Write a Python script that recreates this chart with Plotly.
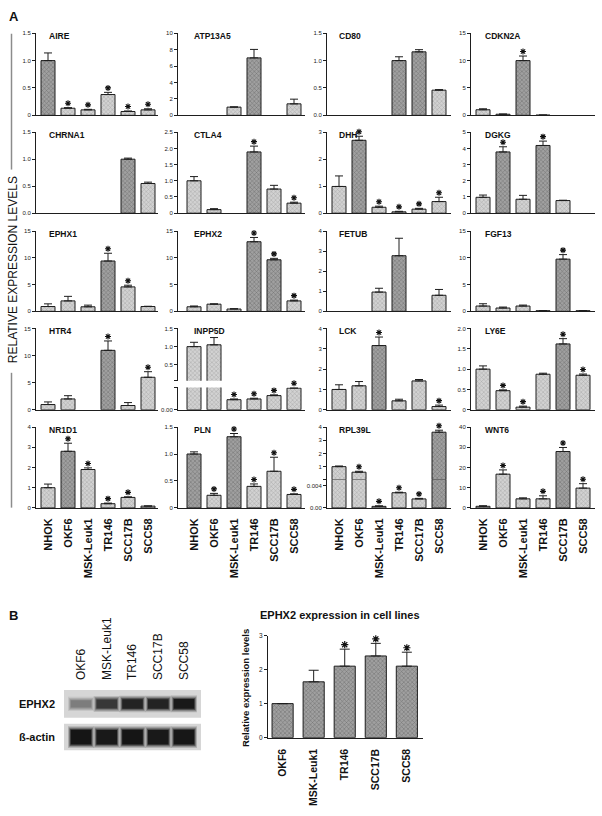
import plotly.graph_objects as go

FONT = "Liberation Sans, Arial, Helvetica, sans-serif"

# ---------------- data: panel A ----------------
CELL_LINES = ["NHOK", "OKF6", "MSK-Leuk1", "TR146", "SCC17B", "SCC58"]

AIRE_MEAN = [1.00, 0.13, 0.10, 0.38, 0.07, 0.10]
AIRE_SEM = [0.14, 0.01, 0.01, 0.04, 0.01, 0.02]
AIRE_SIG = [0, 1, 1, 1, 1, 1]
AIRE_TICKS = [0, 0.5, 1.0, 1.5]
AIRE_TICKTEXT = ["0", "0.5", "1.0", "1.5"]

ATP13A5_MEAN = [None, None, 1.00, 7.00, None, 1.40]
ATP13A5_SEM = [None, None, 0.03, 1.03, None, 0.57]
ATP13A5_SIG = [0, 0, 0, 0, 0, 0]
ATP13A5_TICKS = [0, 2, 4, 6, 8, 10]
ATP13A5_TICKTEXT = ["0", "2", "4", "6", "8", "10"]

CD80_MEAN = [None, None, None, 1.00, 1.16, 0.46]
CD80_SEM = [None, None, None, 0.07, 0.04, 0.01]
CD80_SIG = [0, 0, 0, 0, 0, 0]
CD80_TICKS = [0, 0.5, 1.0, 1.5]
CD80_TICKTEXT = ["0.0", "0.5", "1.0", "1.5"]

CDKN2A_MEAN = [1.02, 0.20, 10.0, 0.05, None, None]
CDKN2A_SEM = [0.18, 0.03, 0.84, None, None, None]
CDKN2A_SIG = [0, 0, 1, 0, 0, 0]
CDKN2A_TICKS = [0, 5, 10, 15]
CDKN2A_TICKTEXT = ["0", "5", "10", "15"]

CHRNA1_MEAN = [None, None, None, None, 1.00, 0.55]
CHRNA1_SEM = [None, None, None, None, 0.02, 0.025]
CHRNA1_SIG = [0, 0, 0, 0, 0, 0]
CHRNA1_TICKS = [0, 0.5, 1.0, 1.5]
CHRNA1_TICKTEXT = ["0.0", "0.5", "1.0", "1.5"]

CTLA4_MEAN = [1.00, 0.11, None, 1.89, 0.745, 0.31]
CTLA4_SEM = [0.13, 0.03, None, 0.18, 0.115, 0.03]
CTLA4_SIG = [0, 0, 0, 1, 0, 1]
CTLA4_TICKS = [0, 0.5, 1.0, 1.5, 2.0, 2.5]
CTLA4_TICKTEXT = ["0", "0.5", "1.0", "1.5", "2.0", "2.5"]

DHH_MEAN = [0.99, 2.70, 0.22, 0.05, 0.15, 0.43]
DHH_SEM = [0.39, 0.15, 0.04, 0.02, 0.03, 0.16]
DHH_SIG = [0, 1, 1, 1, 1, 1]
DHH_TICKS = [0, 1, 2, 3]
DHH_TICKTEXT = ["0", "1", "2", "3"]

DGKG_MEAN = [0.98, 3.78, 0.86, 4.18, 0.78, None]
DGKG_SEM = [0.14, 0.32, 0.24, 0.27, 0.02, None]
DGKG_SIG = [0, 1, 0, 1, 0, 0]
DGKG_TICKS = [0, 1, 2, 3, 4, 5]
DGKG_TICKTEXT = ["0", "1", "2", "3", "4", "5"]

EPHX1_MEAN = [0.90, 1.95, 0.85, 9.40, 4.57, 0.90]
EPHX1_SEM = [0.50, 0.85, 0.31, 1.45, 0.31, 0.05]
EPHX1_SIG = [0, 0, 0, 1, 1, 0]
EPHX1_TICKS = [0, 5, 10, 15]
EPHX1_TICKTEXT = ["0", "5", "10", "15"]

EPHX2_MEAN = [0.85, 1.34, 0.43, 13.0, 9.63, 1.95]
EPHX2_SEM = [0.15, 0.06, 0.07, 0.80, 0.27, 0.15]
EPHX2_SIG = [0, 0, 0, 1, 1, 1]
EPHX2_TICKS = [0, 5, 10, 15]
EPHX2_TICKTEXT = ["0", "5", "10", "15"]

FETUB_MEAN = [None, None, 0.96, 2.77, None, 0.80]
FETUB_SEM = [None, None, 0.19, 0.87, None, 0.29]
FETUB_SIG = [0, 0, 0, 0, 0, 0]
FETUB_TICKS = [0, 1, 2, 3, 4]
FETUB_TICKTEXT = ["0", "1", "2", "3", "4"]

FGF13_MEAN = [0.99, 0.62, 0.99, 0.12, 9.75, 0.12]
FGF13_SEM = [0.43, 0.18, 0.18, 0.02, 0.85, 0.02]
FGF13_SIG = [0, 0, 0, 0, 1, 0]
FGF13_TICKS = [0, 5, 10, 15]
FGF13_TICKTEXT = ["0", "5", "10", "15"]

HTR4_MEAN = [0.97, 2.00, None, 10.97, 0.79, 6.00]
HTR4_SEM = [0.48, 0.60, None, 1.73, 0.54, 1.03]
HTR4_SIG = [0, 0, 0, 1, 0, 1]
HTR4_TICKS = [0, 5, 10, 15]
HTR4_TICKTEXT = ["0", "5", "10", "15"]

INPP5D_MEAN = [1.00, 1.05, 0.027, 0.029, 0.038, 0.058]
INPP5D_SEM = [0.12, 0.20, 0.002, 0.002, 0.002, 0.001]
INPP5D_SIG = [0, 0, 1, 1, 1, 1]
INPP5D_BREAK = 0.06
INPP5D_TICKS_UPPER = [0.5, 1.0, 1.5]
INPP5D_TICKTEXT_UPPER = ["0.5", "1.0", "1.5"]
INPP5D_TICKS_LOWER = [0]
INPP5D_TICKTEXT_LOWER = ["0.00"]

LCK_MEAN = [1.00, 1.18, 3.16, 0.44, 1.42, 0.16]
LCK_SEM = [0.23, 0.21, 0.42, 0.08, 0.07, 0.07]
LCK_SIG = [0, 0, 1, 0, 0, 1]
LCK_TICKS = [0, 1, 2, 3, 4]
LCK_TICKTEXT = ["0", "1", "2", "3", "4"]

LY6E_MEAN = [1.00, 0.47, 0.065, 0.875, 1.62, 0.85]
LY6E_SEM = [0.08, 0.02, 0.025, 0.025, 0.13, 0.03]
LY6E_SIG = [0, 1, 1, 0, 1, 1]
LY6E_TICKS = [0, 0.5, 1.0, 1.5, 2.0]
LY6E_TICKTEXT = ["0", "0.5", "1.0", "1.5", "2.0"]

NR1D1_MEAN = [1.00, 2.80, 1.90, 0.21, 0.52, 0.09]
NR1D1_SEM = [0.18, 0.40, 0.08, 0.03, 0.03, 0.01]
NR1D1_SIG = [0, 1, 1, 1, 1, 0]
NR1D1_TICKS = [0, 1, 2, 3, 4]
NR1D1_TICKTEXT = ["0", "1", "2", "3", "4"]

PLN_MEAN = [1.00, 0.235, 1.32, 0.40, 0.68, 0.25]
PLN_SEM = [0.04, 0.035, 0.06, 0.045, 0.26, 0.012]
PLN_SIG = [0, 1, 1, 1, 1, 1]
PLN_TICKS = [0, 0.5, 1.0, 1.5]
PLN_TICKTEXT = ["0", "0.5", "1.0", "1.5"]

RPL39L_MEAN = [1.00, 0.58, 0.00028, 0.0027, 0.0016, 3.61]
RPL39L_SEM = [0.05, 0.07, 0.0001, 0.0001, 0.0001, 0.15]
RPL39L_SIG = [0, 1, 1, 1, 1, 1]
RPL39L_BREAK = 0.005
RPL39L_TICKS_UPPER = [1, 2, 3, 4]
RPL39L_TICKTEXT_UPPER = ["1", "2", "3", "4"]
RPL39L_TICKS_LOWER = [0, 0.004]
RPL39L_TICKTEXT_LOWER = ["0.00", "0.004"]

WNT6_MEAN = [0.80, 16.7, 4.5, 4.5, 27.9, 9.8]
WNT6_SEM = [0.30, 2.1, 0.5, 1.5, 2.0, 2.2]
WNT6_SIG = [0, 1, 0, 1, 1, 1]
WNT6_TICKS = [0, 10, 20, 30, 40]
WNT6_TICKTEXT = ["0", "10", "20", "30", "40"]

# ---------------- data: panel B ----------------
WB_LINES = ["OKF6", "MSK-Leuk1", "TR146", "SCC17B", "SCC58"]
WB_MEAN = [1.00, 1.64, 2.10, 2.40, 2.10]
WB_SEM = [None, 0.34, 0.50, 0.37, 0.41]
WB_SIG = [0, 0, 1, 1, 1]
WB_TICKS = [0, 1, 2, 3]
WB_TICKTEXT = ["0", "1", "2", "3"]
BLOT_ROWS = ["EPHX2", "ß-actin"]
EPHX2_BAND = [0.45, 0.80, 0.90, 0.90, 0.95]
ACTIN_BAND = [0.97, 0.95, 0.97, 0.95, 0.96]

# ---------------- table built from the arrays ----------------
G = globals()
GRID = [["AIRE", "ATP13A5", "CD80", "CDKN2A"],
        ["CHRNA1", "CTLA4", "DHH", "DGKG"],
        ["EPHX1", "EPHX2", "FETUB", "FGF13"],
        ["HTR4", "INPP5D", "LCK", "LY6E"],
        ["NR1D1", "PLN", "RPL39L", "WNT6"]]
SPLIT = {"INPP5D", "RPL39L"}

# ---------------- styles / layout (pixels) ----------------
DARK_BARS = {"AIRE": [0], "ATP13A5": [3], "CD80": [3, 4], "CDKN2A": [2], "CHRNA1": [4],
             "CTLA4": [3], "DHH": [1], "DGKG": [1, 3], "EPHX1": [3], "EPHX2": [3, 4],
             "FETUB": [3], "FGF13": [4], "HTR4": [3], "INPP5D": [], "LCK": [2],
             "LY6E": [4], "NR1D1": [1], "PLN": [0, 2], "RPL39L": [5], "WNT6": [4]}
LIGHT = dict(bg="#d2d2d2", fg="#7a7a7a")
DARK = dict(bg="#a0a0a0", fg="#3c3c3c")
EDGE = "#1e1e1e"
W, H = 602, 816
COLS = [(36, 158), (178, 305), (327, 451), (471, 595)]
COL_RANGE = [(-0.6, 5.5), (-0.8, 5.55), (-0.6, 5.6), (-0.6, 5.6)]
ROWS = [(29.5, 112.3), (129.3, 211.0), (229.0, 310.0), (327.3, 409.3), (426.7, 508.3)]
TITLE_X = [47, 192, 337, 483]
SPLIT_DOM = {"INPP5D": ((327.3, 380.0), (386.7, 409.3)),
             "RPL39L": ((426.7, 479.9), (479.9, 508.3))}
STAR_GAP_PX = 4.5
STAR_ROOM_PX = 16.0


def fx(p):
    return p / W


def fy(p):
    return 1 - p / H


layout = dict(width=W, height=H, margin=dict(l=0, r=0, t=0, b=0), autosize=False,
              paper_bgcolor="white", plot_bgcolor="rgba(0,0,0,0)", showlegend=False,
              barmode="overlay", font=dict(family=FONT, color="#111"),
              annotations=[], shapes=[])
traces = []
N = [0]


def add_axes(xdom, ydom, xrange, yrange, cats, xkw=None, ykw=None, visible=True):
    N[0] += 1
    s = "" if N[0] == 1 else str(N[0])
    xa = dict(domain=[fx(xdom[0]), fx(xdom[1])], range=list(xrange), anchor="y" + s,
              type="category", categoryorder="array", categoryarray=cats,
              showline=True, linecolor=EDGE, linewidth=1, ticks="", showgrid=False,
              zeroline=False, showticklabels=False, fixedrange=True)
    ya = dict(domain=[fy(ydom[1]), fy(ydom[0])], range=list(yrange), anchor="x" + s,
              showline=True, linecolor=EDGE, linewidth=1, ticks="outside", ticklen=3,
              tickwidth=1, tickcolor=EDGE, showgrid=False, zeroline=False,
              tickfont=dict(size=6, family=FONT, color="#222"), fixedrange=True)
    if xkw:
        xa.update(xkw)
    if ykw:
        ya.update(ykw)
    if not visible:
        xa["visible"] = False
        ya["visible"] = False
    layout["xaxis" + s] = xa
    layout["yaxis" + s] = ya
    info = dict(xdom=xdom, ydom=ydom, xrange=xrange, yrange=yrange, cats=cats,
                upp=abs(yrange[1] - yrange[0]) / abs(ydom[1] - ydom[0]))
    return "x" + s, "y" + s, info


def add_bars(ax, means, sems, sigs, dark_idx, owns, show, capw=4, bw=0.7, star=5, lw=1.1):
    xr, yr, info = ax
    cats = info["cats"]
    for is_dark in (False, True):
        ys, es = [], []
        for i, m in enumerate(means):
            if m is not None and show(m) and ((i in dark_idx) == is_dark):
                ys.append(m)
                es.append(sems[i] if (owns(m) and sems[i] is not None) else None)
            else:
                ys.append(None)
                es.append(None)
        if all(v is None for v in ys):
            continue
        st = DARK if is_dark else LIGHT
        traces.append(go.Bar(
            x=cats, y=ys, xaxis=xr, yaxis=yr, width=bw, hoverinfo="skip",
            marker=dict(color=st["bg"], line=dict(color=EDGE, width=1),
                        pattern=dict(shape="x", fgcolor=st["fg"], bgcolor=st["bg"],
                                     size=3, solidity=0.3)),
            error_y=dict(type="data", symmetric=False, array=es,
                         arrayminus=[0 if e is not None else None for e in es],
                         color=EDGE, thickness=1, width=capw)))
    sx, sy = [], []
    for i, m in enumerate(means):
        if m is not None and sigs[i] and owns(m):
            sx.append(cats[i])
            sy.append(m + (sems[i] or 0) + STAR_GAP_PX * info["upp"])
    if sx:
        # invisible twin subplot with the same scale, a little taller, for the stars
        y0, y1 = info["yrange"]
        sxr, syr, _ = add_axes(info["xdom"], (info["ydom"][0] - STAR_ROOM_PX, info["ydom"][1]),
                               info["xrange"], (y0, y1 + STAR_ROOM_PX * info["upp"]), cats,
                               visible=False)
        traces.append(go.Scatter(
            x=sx, y=sy, xaxis=sxr, yaxis=syr, mode="markers", hoverinfo="skip",
            marker=dict(symbol="asterisk-open", size=star, color="#111",
                        line=dict(color="#111", width=lw))))


def tick_labels_bottom():
    return dict(showticklabels=True, tickangle=-90, ticklabelstandoff=5,
                tickfont=dict(size=11, family=FONT, color="#111", weight="bold"))


for r, row in enumerate(GRID):
    for c, gene in enumerate(row):
        means, sems, sigs = G[gene + "_MEAN"], G[gene + "_SEM"], G[gene + "_SIG"]
        bottom = (r == len(GRID) - 1)
        xkw = tick_labels_bottom() if bottom else None
        if gene in SPLIT:
            brk = G[gene + "_BREAK"]
            up_dom, lo_dom = SPLIT_DOM[gene]
            tu, ttu = G[gene + "_TICKS_UPPER"], G[gene + "_TICKTEXT_UPPER"]
            tl, ttl = G[gene + "_TICKS_LOWER"], G[gene + "_TICKTEXT_LOWER"]
            ax = add_axes(COLS[c], lo_dom, COL_RANGE[c], (0, brk), CELL_LINES, xkw,
                          dict(tickvals=tl + [brk], ticktext=ttl + [""]))
            add_bars(ax, means, sems, sigs, DARK_BARS[gene],
                     lambda m, b=brk: m <= b, lambda m: True)
            ax2 = add_axes(COLS[c], up_dom, COL_RANGE[c], (brk, tu[-1]), CELL_LINES,
                           dict(showline=False),
                           dict(tickvals=[brk] + tu, ticktext=[""] + ttu))
            add_bars(ax2, means, sems, sigs, DARK_BARS[gene],
                     lambda m, b=brk: m > b, lambda m, b=brk: m > b)
            top = up_dom[0]
        else:
            ticks, ttext = G[gene + "_TICKS"], G[gene + "_TICKTEXT"]
            ax = add_axes(COLS[c], ROWS[r], COL_RANGE[c], (0, ticks[-1]), CELL_LINES,
                          xkw, dict(tickvals=ticks, ticktext=ttext))
            add_bars(ax, means, sems, sigs, DARK_BARS[gene],
                     lambda m: True, lambda m: True)
            top = ROWS[r][0]
        layout["annotations"].append(dict(
            text="<b>%s</b>" % gene, xref="paper", yref="paper", x=fx(TITLE_X[c]),
            y=fy(top + 2.5), xanchor="left", yanchor="middle", showarrow=False,
            font=dict(size=8.5, family=FONT, color="#111")))

# ---------------- panel B: bar chart ----------------
axb = add_axes((268, 423), (637, 740), (-0.47, 4.52), (0, WB_TICKS[-1]), WB_LINES,
               dict(showticklabels=True, tickangle=-90, ticklabelstandoff=6,
                    tickfont=dict(size=10.5, family=FONT, color="#111", weight="bold")),
               dict(tickvals=WB_TICKS, ticktext=WB_TICKTEXT,
                    tickfont=dict(size=6.5, family=FONT, color="#222")))
add_bars(axb, WB_MEAN, WB_SEM, WB_SIG, list(range(len(WB_LINES))),
         lambda m: True, lambda m: True, capw=5, bw=0.68, star=6, lw=1.2)

# ---------------- panel B: western blot ----------------
xw, yw, _ = add_axes((64, 201), (692, 753), (-0.66, 4.66), (61, 0), WB_LINES,
                     dict(side="top", showline=False, showticklabels=True, tickangle=-90,
                          ticklabelstandoff=9,
                          tickfont=dict(size=12, family=FONT, color="#111")),
                     dict(showline=False, ticks="", tickvals=[14, 47], ticktext=BLOT_ROWS,
                          ticklabelstandoff=8,
                          tickfont=dict(size=11, family=FONT, color="#111", weight="bold")))
for y0, y1 in ((0, 28), (34, 61)):
    layout["shapes"].append(dict(type="rect", xref=xw + " domain", yref=yw, x0=0, x1=1,
                                 y0=y0, y1=y1, fillcolor="#d6d6d6", line=dict(width=0),
                                 layer="below"))
for i, lane in enumerate(WB_LINES):
    for inten, cy, hmax in ((EPHX2_BAND[i], 14, 10), (ACTIN_BAND[i], 47.5, 15)):
        g = int(215 - 200 * inten)
        col = "rgb(%d,%d,%d)" % (g, g, g)
        h = hmax * (0.5 + 0.5 * inten)
        for k, op in ((3, 0.18), (2, 0.3), (1, 0.5), (0, 1.0)):
            layout["shapes"].append(dict(
                type="rect", xref=xw, yref=yw,
                x0=i - 0.40 - 0.035 * k, x1=i + 0.40 + 0.035 * k,
                y0=cy - h / 2 - 1.2 * k, y1=cy + h / 2 + 1.2 * k,
                fillcolor=col, opacity=op, line=dict(width=0), layer="above"))

# ---------------- texts and decorations ----------------
ann = layout["annotations"]
ann.append(dict(text="<b>A</b>", xref="paper", yref="paper", x=fx(7), y=fy(12.5),
                xanchor="left", yanchor="middle", showarrow=False,
                font=dict(size=13, family=FONT, color="#111")))
ann.append(dict(text="<b>B</b>", xref="paper", yref="paper", x=fx(7), y=fy(617),
                xanchor="left", yanchor="middle", showarrow=False,
                font=dict(size=13, family=FONT, color="#111")))
ann.append(dict(text="RELATIVE EXPRESSION LEVELS", xref="paper", yref="paper", x=fx(12.5),
                y=fy(268), xanchor="center", yanchor="middle", textangle=-90, showarrow=False,
                font=dict(size=12, family=FONT, color="#111")))
ann.append(dict(text="<b>EPHX2 expression in cell lines</b>", xref="paper", yref="paper",
                x=fx(340), y=fy(616), xanchor="center", yanchor="middle", showarrow=False,
                font=dict(size=11, family=FONT, color="#111")))
ann.append(dict(text="<b>Relative expression levels</b>", xref="paper", yref="paper",
                x=fx(245), y=fy(690), xanchor="center", yanchor="middle", textangle=-90,
                showarrow=False, font=dict(size=9.5, family=FONT, color="#111")))
for y0, y1 in ((30, 167), (372, 508)):
    layout["shapes"].append(dict(type="line", xref="paper", yref="paper", x0=fx(11.5),
                                 x1=fx(11.5), y0=fy(y0), y1=fy(y1),
                                 line=dict(color="#8c8c8c", width=1.5)))

fig = go.Figure(data=traces, layout=layout)
fig.write_html("out.html", config={"displayModeBar": False, "staticPlot": True},
               post_script="document.body.style.margin='0';document.body.style.overflow='hidden';")
